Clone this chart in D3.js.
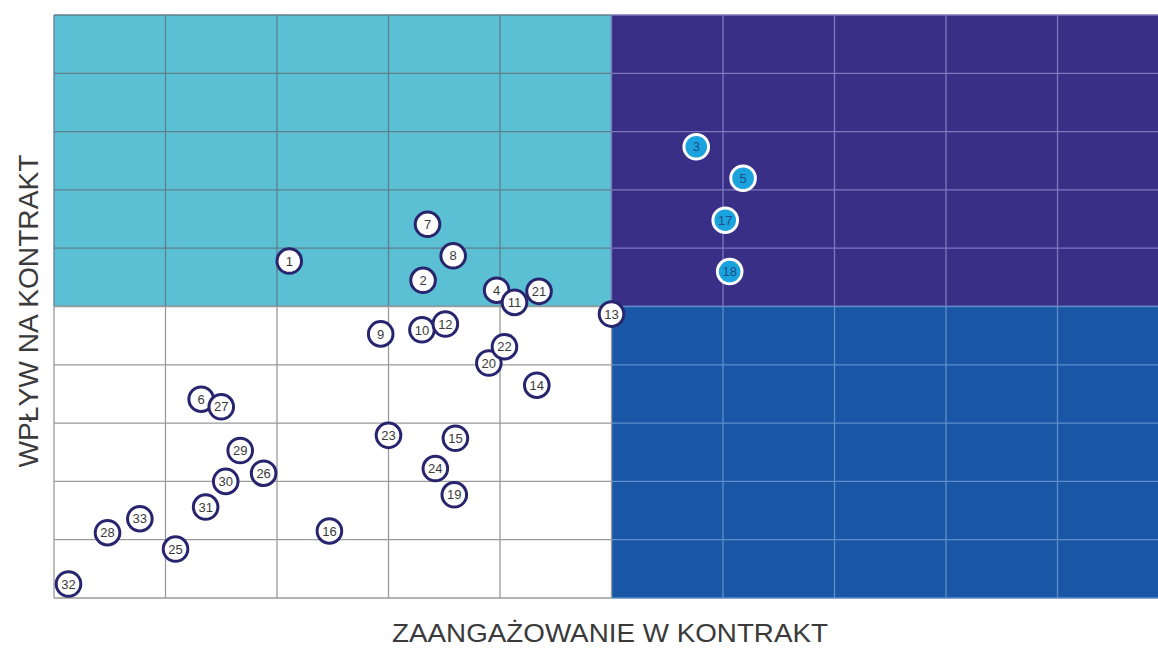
<!DOCTYPE html>
<meta charset="utf-8">
<style>
body { margin: 0; background: #fff; }
text { font-family: "Liberation Sans", Arial, sans-serif; }
.axis-label { fill: #3a3a3a; }
.num { font-size: 13px; }
</style>
<svg></svg>
<script src="https://d3js.org/d3.v7.min.js"></script>
<script>

// stakeholder ids and positions (grid units, 0-10 each axis)
var ids  = [1, 2, 3, 4, 5, 6, 7, 8, 9, 10, 11, 12, 13, 14, 15, 16, 17,
            18, 19, 20, 21, 22, 23, 24, 25, 26, 27, 28, 29, 30, 31, 32, 33];
var engagement = [2.11, 3.31, 5.76, 3.97, 6.18, 1.32, 3.35, 3.58, 2.93, 3.30, 4.13, 3.51, 5.00, 4.33, 3.60, 2.47, 6.02,
                  6.06, 3.59, 3.90, 4.35, 4.04, 3.00, 3.42, 1.09, 1.88, 1.50, 0.48, 1.67, 1.54, 1.36, 0.13, 0.77];
var influence  = [5.78, 5.45, 7.74, 5.28, 7.20, 3.41, 6.41, 5.87, 4.53, 4.60, 5.07, 4.70, 4.87, 3.65, 2.74, 1.15, 6.48,
                  5.60, 1.77, 4.03, 5.26, 4.31, 2.79, 2.22, 0.84, 2.14, 3.28, 1.12, 2.53, 2.00, 1.56, 0.24, 1.36];

// quadrants: [x0, x1, y0, y1, fill, grid colour]
var quadrants = [
  [0, 5, 5, 10, "#5cc0d4", "#5f7f8c"],
  [5, 10, 5, 10, "#3a2f86", "#7d79bd"],
  [5, 10, 0, 5, "#1957a6", "#5e8dc8"],
  [0, 5, 0, 5, "#ffffff", "#9a9a9a"]
];

var width = 1158, height = 648;
var svg = d3.select("svg").attr("width", width).attr("height", height);

var x = d3.scaleLinear().domain([0, 10]).range([54, 1169]);
var y = d3.scaleLinear().domain([0, 10]).range([598, 15]);

var q = svg.append("g").selectAll("g")
  .data(quadrants)
  .enter().append("g");

q.append("rect")
  .attr("x", function(d) { return x(d[0]); })
  .attr("y", function(d) { return y(d[3]); })
  .attr("width", function(d) { return x(d[1]) - x(d[0]); })
  .attr("height", function(d) { return y(d[2]) - y(d[3]); })
  .attr("fill", function(d) { return d[4]; });

// grid lines inside each quadrant
q.each(function(d) {
  var g = d3.select(this);
  var xs = d3.range(d[0], d[1] + 1), ys = d3.range(d[2], d[3] + 1);
  g.selectAll("line.v").data(xs).enter().append("line")
    .attr("x1", function(v) { return x(v); }).attr("x2", function(v) { return x(v); })
    .attr("y1", y(d[3])).attr("y2", y(d[2]))
    .attr("stroke", d[5]).attr("stroke-width", 1.3);
  g.selectAll("line.h").data(ys).enter().append("line")
    .attr("y1", function(v) { return y(v); }).attr("y2", function(v) { return y(v); })
    .attr("x1", x(d[0])).attr("x2", x(d[1]))
    .attr("stroke", d[5]).attr("stroke-width", 1.3);
});

var points = ids.map(function(id, i) {
  return { id: id, ex: engagement[i], inf: influence[i] };
});

function key(d) { return d.ex > 5 && d.inf > 5; }

var node = svg.append("g").selectAll("g")
  .data(points)
  .enter().append("g")
  .attr("transform", function(d) { return "translate(" + x(d.ex) + "," + y(d.inf) + ")"; });

node.append("circle")
  .attr("r", 12.3)
  .attr("fill", function(d) { return key(d) ? "#1aa3dc" : "#fff"; })
  .attr("stroke", function(d) { return key(d) ? "#fff" : "#28246e"; })
  .attr("stroke-width", 3);

node.append("text")
  .attr("class", "num")
  .attr("text-anchor", "middle")
  .attr("dy", "0.36em")
  .attr("fill", function(d) { return key(d) ? "#1d4f8a" : "#3a3a3a"; })
  .text(function(d) { return d.id; });

svg.append("text")
  .attr("class", "axis-label")
  .attr("x", 610).attr("y", 642)
  .attr("text-anchor", "middle")
  .attr("font-size", 26)
  .attr("textLength", 436)
  .attr("lengthAdjust", "spacingAndGlyphs")
  .text("ZAANGAŻOWANIE W KONTRAKT");

svg.append("text")
  .attr("class", "axis-label")
  .attr("transform", "translate(38,311) rotate(-90)")
  .attr("text-anchor", "middle")
  .attr("font-size", 28)
  .attr("textLength", 313)
  .attr("lengthAdjust", "spacingAndGlyphs")
  .text("WPŁYW NA KONTRAKT");

</script>
